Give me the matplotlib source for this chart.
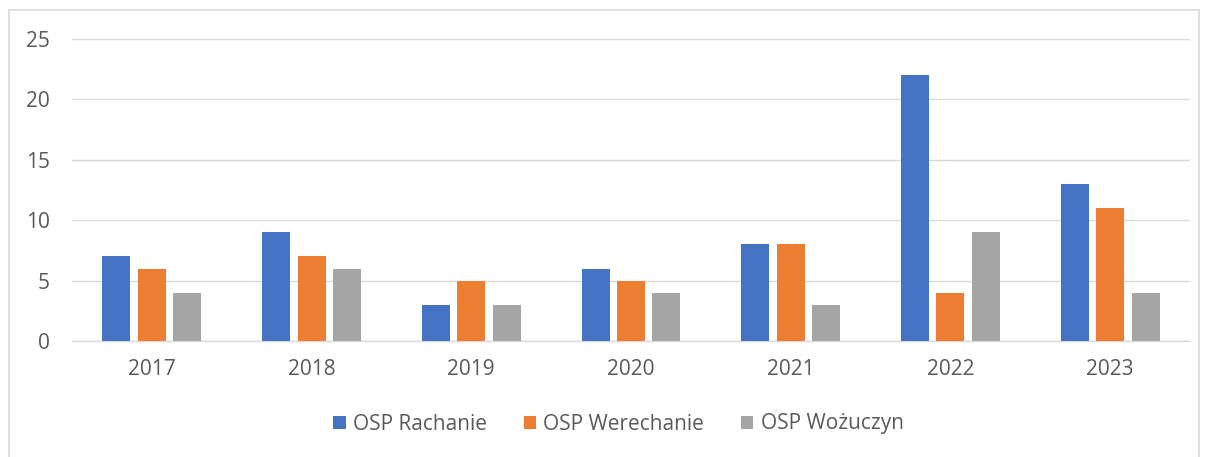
import matplotlib.pyplot as plt
import numpy as np
from matplotlib.patches import Rectangle

years = ["2017", "2018", "2019", "2020", "2021", "2022", "2023"]
rachanie = [7, 9, 3, 6, 8, 22, 13]
werechanie = [6, 7, 5, 5, 8, 4, 11]
wozuczyn = [4, 6, 3, 4, 3, 9, 4]

series = [
    ("OSP Rachanie", rachanie, "#4472C4"),
    ("OSP Werechanie", werechanie, "#ED7D31"),
    ("OSP Wożuczyn", wozuczyn, "#A5A5A5"),
]

plt.rcParams['font.family'] = ['Open Sans', 'DejaVu Sans']
txt = "#595959"

W, H = 1208, 457
fig = plt.figure(figsize=(W / 100, H / 100), dpi=100)
fig.patches.append(Rectangle((9 / W, -0.05), (1199 - 9) / W, 1.05 - 10 / H,
                             transform=fig.transFigure, fill=False,
                             edgecolor="#D9D9D9", linewidth=1.2))

ax = fig.add_axes([72 / W, 1 - 341 / H, (1190 - 72) / W, (341 - 39) / H])

x = np.arange(len(years))
width = 0.175
step = 0.222
for i, (name, vals, color) in enumerate(series):
    ax.bar(x + (i - 1) * step, vals, width, color=color, label=name, zorder=3)

ax.set_xlim(-0.5, len(years) - 0.5)
ax.set_ylim(0, 25)
ax.set_yticks(range(0, 26, 5))
ax.set_xticks(x)
ax.set_xticklabels(years)
ax.grid(axis="y", color="#D9D9D9", linewidth=1, zorder=0)
for s in ["top", "right", "left"]:
    ax.spines[s].set_visible(False)
ax.spines["bottom"].set_color("#D9D9D9")
ax.spines["bottom"].set_linewidth(1)
ax.tick_params(axis="both", length=0, labelsize=15, colors=txt)
ax.tick_params(axis="x", pad=13)
ax.tick_params(axis="y", pad=16)

leg = fig.legend(loc="center", bbox_to_anchor=(0.512, 1 - 424 / H), ncol=3,
                 frameon=False, fontsize=15, handlelength=0.6, handleheight=0.6,
                 handletextpad=0.35, columnspacing=1.75)
for t in leg.get_texts():
    t.set_color(txt)

fig.savefig("out.png", dpi=100)
